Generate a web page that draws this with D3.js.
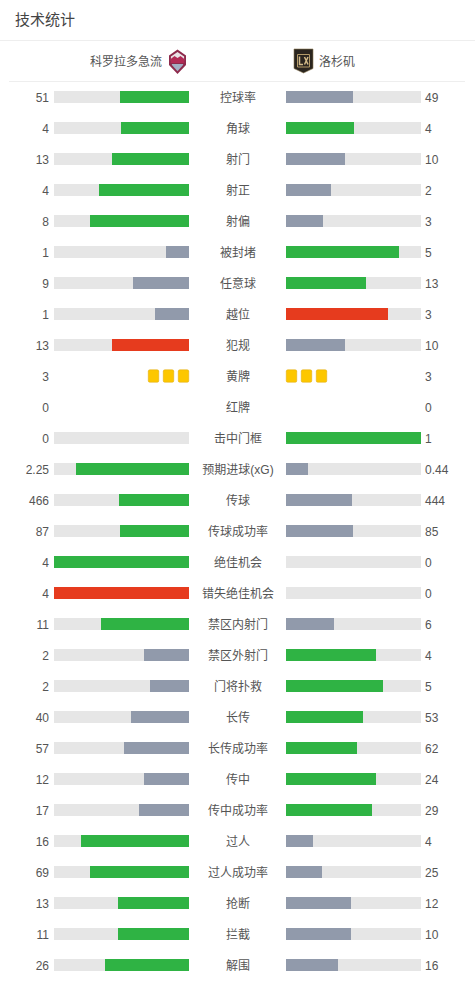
<!DOCTYPE html>
<html><head><meta charset="utf-8">
<script src="https://cdn.jsdelivr.net/npm/d3@7/dist/d3.min.js"></script>
<style>html,body{margin:0;padding:0;background:#fff}svg{display:block}
text{font-family:"Liberation Sans","Noto Sans CJK SC",sans-serif}</style></head>
<body><div id="chart"></div>
<script>
const title = "技术统计";
const homeTeam = "科罗拉多急流";
const awayTeam = "洛杉矶";
const categories = ["控球率","角球","射门","射正","射偏","被封堵","任意球","越位","犯规","黄牌","红牌","击中门框","预期进球(xG)","传球","传球成功率","绝佳机会","错失绝佳机会","禁区内射门","禁区外射门","门将扑救","长传","长传成功率","传中","传中成功率","过人","过人成功率","抢断","拦截","解围"];
const homeLabels = ["51","4","13","4","8","1","9","1","13","3","0","0","2.25","466","87","4","4","11","2","2","40","57","12","17","16","69","13","11","26"];
const awayLabels = ["49","4","10","2","3","5","13","3","10","3","0","1","0.44","444","85","0","0","6","4","5","53","62","24","29","4","25","12","10","16"];
const homeValues = [51,4,13,4,8,1,9,1,13,3,0,0,2.25,466,87,4,4,11,2,2,40,57,12,17,16,69,13,11,26];
const awayValues = [49,4,10,2,3,5,13,3,10,3,0,1,0.44,444,85,0,0,6,4,5,53,62,24,29,4,25,12,10,16];
const lowerIsWorse = ["越位","犯规","错失绝佳机会"];
const cardRows = ["黄牌","红牌"];

const W = 475, H = 981;
const svg = d3.select("#chart").append("svg").attr("width",W).attr("height",H);
const C = {green:"#2fb344",grey:"#919aab",red:"#e63b1e",track:"#e6e6e6",text:"#555",title:"#444",rule:"#eeeeee",card:"#fdc700",cardEdge:"#dfa90e"};

const y = d3.scalePoint().domain(categories).range([97,965]);
const share = d3.scaleLinear().domain([0,1]).range([0,135]);
const L0 = 54, L1 = 189, R0 = 286, R1 = 421, BH = 12;
// bar edges snap to whole pixels from a slightly offset origin, as laid-out boxes do
const leftEdge = v => Math.min(L1, Math.max(L0, Math.round(L1 - 0.4 - share(v))));
const rightEdge = v => Math.min(R1, Math.max(R0, Math.round(R0 + 0.4 + share(v))));

// header
svg.append("text").attr("x",15).attr("y",25).attr("font-size",15).attr("fill",C.title).text(title);
svg.append("line").attr("x1",0).attr("x2",W).attr("y1",40.5).attr("y2",40.5).attr("stroke",C.rule);
svg.append("line").attr("x1",9).attr("x2",465).attr("y1",81.5).attr("y2",81.5).attr("stroke",C.rule);
svg.append("text").attr("x",162).attr("y",66).attr("text-anchor","end").attr("font-size",12).attr("fill",C.text).text(homeTeam);
svg.append("text").attr("x",319).attr("y",66).attr("font-size",12).attr("fill",C.text).text(awayTeam);

// home crest
const hc = svg.append("g").attr("transform","translate(177.5,61.5)");
hc.append("path").attr("d","M0,-12L8.5,-6L8.5,3.5L0,12.5L-8.5,3.5L-8.5,-6Z").attr("fill","#8e2a4c");
hc.append("path").attr("d","M0,-9.5L6.6,-5L6.6,-1L-6.6,-1L-6.6,-5Z").attr("fill","#e9e2e6");
hc.append("path").attr("d","M-6.8,-2.5L-3,-5.5L0,-3.5L3,-5.5L6.8,-2.5L6.8,1.5L-6.8,1.5Z").attr("fill","#b22a55");
hc.append("path").attr("d","M-5.6,2.5L5.6,2.5L5.6,3.5L0,9.8L-5.6,3.5Z").attr("fill","#a3aec4");
// away crest
const ac = svg.append("g").attr("transform","translate(303.5,61)");
ac.append("path").attr("d","M-9.5,-12L9.5,-12L9.5,7.5L0,12L-9.5,7.5Z").attr("fill","#2a251f").attr("stroke","#8d7a55").attr("stroke-width",0.6);
ac.append("path").attr("d","M-6,-6.5L6,-6.5L6,6L-6,6Z").attr("fill","none").attr("stroke","#b39a68").attr("stroke-width",1);
ac.append("path").attr("d","M-4,-4.5L-4,3.5L-0.5,3.5M1,-4L4.5,3.5M4.5,-4L1,3.5").attr("fill","none").attr("stroke","#d3bb8a").attr("stroke-width",1.5);

const row = svg.selectAll("g.row").data(categories).join("g").attr("class","row")
  .attr("transform",d=>`translate(0,${y(d)})`);

function colour(mine,other,cat){
  if(mine<other) return C.grey;
  if(lowerIsWorse.includes(cat)) return mine===other?C.grey:C.red;
  return C.green;
}
row.append("text").attr("x",W/2+0.5).attr("y",5).attr("text-anchor","middle").attr("font-size",12).attr("fill",C.text).text(d=>d);
row.append("text").attr("x",49).attr("y",5).attr("text-anchor","end").attr("font-size",12).attr("fill",C.text).text((d,i)=>homeLabels[i]);
row.append("text").attr("x",425).attr("y",5).attr("font-size",12).attr("fill",C.text).text((d,i)=>awayLabels[i]);

const bars = row.filter(d=>!cardRows.includes(d));
bars.append("rect").attr("x",L0).attr("y",-BH/2).attr("width",L1-L0).attr("height",BH).attr("fill",C.track);
bars.append("rect").attr("x",R0).attr("y",-BH/2).attr("width",R1-R0).attr("height",BH).attr("fill",C.track);
bars.append("rect").each(function(d){
  const i=categories.indexOf(d),a=homeValues[i],b=awayValues[i],x=a?leftEdge(a/(a+b)):L1;
  d3.select(this).attr("x",x).attr("y",-BH/2).attr("width",L1-x).attr("height",BH).attr("fill",colour(a,b,d));
});
bars.append("rect").each(function(d){
  const i=categories.indexOf(d),a=homeValues[i],b=awayValues[i],x=b?rightEdge(b/(a+b)):R0;
  d3.select(this).attr("x",R0).attr("y",-BH/2).attr("width",x-R0).attr("height",BH).attr("fill",colour(b,a,d));
});

// cards
const cards = row.filter(d=>cardRows.includes(d));
cards.each(function(d){
  const i=categories.indexOf(d), g=d3.select(this);
  if(d!=="黄牌") return;
  const drawCards=(n,x0,step)=>g.selectAll(null).data(d3.range(n)).join("rect")
    .attr("x",k=>x0+k*step).attr("y",-6.25).attr("width",10.5).attr("height",12.5).attr("rx",1.5)
    .attr("fill",C.card).attr("stroke",C.cardEdge).attr("stroke-width",0.5);
  drawCards(homeValues[i],178.25,-15);
  drawCards(awayValues[i],286.25,15);
});
</script></body></html>
